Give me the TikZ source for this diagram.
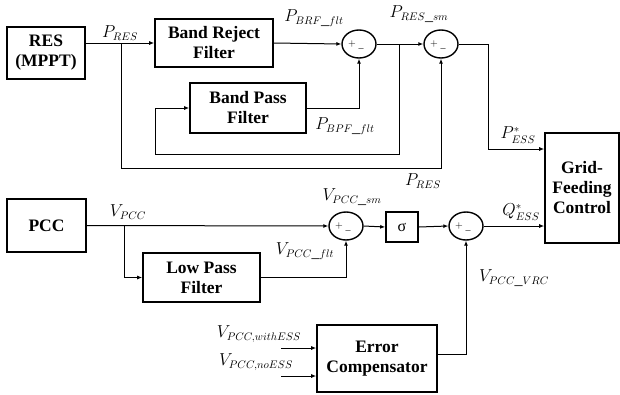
\documentclass[tikz,border=0pt]{standalone}
\usepackage{fontspec}
\setmainfont{Liberation Serif}
\usetikzlibrary{shapes.geometric,arrows.meta,calc}
\begin{document}
\begin{tikzpicture}[x=1pt,y=-1pt,
  blk/.style={draw,line width=1.6pt,align=center,font=\fontsize{17.5}{20}\selectfont\bfseries,inner sep=0pt},
  sumj/.style={draw,line width=1.4pt,ellipse,minimum width=34pt,minimum height=28pt,inner sep=0pt},
  wire/.style={line width=1pt},
  arr/.style={wire,-{Latex[length=5pt,width=4pt]}},
  lbl/.style={font=\fontsize{16}{18}\selectfont,inner sep=0pt},
  pm/.style={font=\fontsize{10}{10}\selectfont,inner sep=0pt}]
\useasboundingbox (0,0) rectangle (620,394);
% blocks
\node[blk,minimum width=78pt,minimum height=52pt] (res) at (46,53) {RES\\(MPPT)};
\node[blk,minimum width=118pt,minimum height=48pt] (brf) at (214,43) {Band Reject\\Filter};
\node[blk,minimum width=116pt,minimum height=50pt] (bpf) at (248,108) {Band Pass\\Filter};
\node[blk,minimum width=74pt,minimum height=110pt] (grid) at (582,188) {Grid-\\Feeding\\Control};
\node[blk,minimum width=79pt,minimum height=53pt] (pcc) at (46.5,225.5) {PCC};
\node[blk,minimum width=117pt,minimum height=49pt] (lpf) at (201.5,277.5) {Low Pass\\Filter};
\node[blk,minimum width=32pt,minimum height=30pt,font=\fontsize{16}{18}\selectfont] (sig) at (402,227) {σ};
\node[blk,minimum width=120pt,minimum height=67pt] (ec) at (377,358.5) {Error\\Compensator};
% summing junctions
\foreach \n/\x/\y in {s1/359/44, s2/441/44, s3/346/226, s4/466/226}{
  \node[sumj] (\n) at (\x,\y) {};
  \node[pm] (\n p) at ($(\x,\y)+(-7,0)$) {$+$};
  \node[pm] (\n m) at ($(\x,\y)+(2,6)$) {\textendash};
}
% coordinates
\coordinate (b1) at (121,43);
\coordinate (b2) at (399,44);
\coordinate (b3) at (124,226);
\coordinate (in1) at (281,348);
\coordinate (in2) at (281,376);
% top connectors
\draw[arr] (res.east |- brf.west) -- (brf.west);
\draw[arr] (brf.east) -- (s1.west);
\draw[arr] (s1.east) -- (s2.west);
\draw[arr] (b2) -- (399,154) -- (155,154) -- (155,108) -- (bpf.west);
\draw[arr] (bpf.east) -| (s1.south);
\draw[arr] (b1) -- (121,168) -| (s2.south);
\draw[arr] (s2.east) -- (488,44) -- (488,149) -- (grid.west |- 0,149);
% bottom connectors
\draw[arr] (pcc.east) -- (s3.west);
\draw[arr] (b3) |- (lpf.west);
\draw[arr] (lpf.east) -| (s3.south);
\draw[arr] (s3.east) -- (sig.west);
\draw[arr] (sig.east) -- (s4.west);
\draw[arr] (s4.east) -- (grid.west |- s4.east);
\draw[arr] (ec.east |- 0,354) -| (s4.south);
\draw[arr] (in1) -- (ec.west |- in1);
\draw[arr] (in2) -- (ec.west |- in2);
% labels
\node[lbl] (l1) at (120,33) {$P_{RES}$};
\node[lbl] (l2) at (314,18) {$P_{BRF\_flt}$};
\node[lbl] (l3) at (419,14) {$P_{RES\_sm}$};
\node[lbl] (l4) at (345,126) {$P_{BPF\_flt}$};
\node[lbl] (l5) at (518,135) {$P^{*}_{ESS}$};
\node[lbl] (l6) at (423,181) {$P_{RES}$};
\node[lbl] (l7) at (128,212) {$V_{PCC}$};
\node[lbl] (l8) at (352,197) {$V_{PCC\_sm}$};
\node[lbl] (l9) at (305,251) {$V_{PCC\_flt}$};
\node[lbl] (l10) at (521,212) {$Q^{*}_{ESS}$};
\node[lbl] (l11) at (514,278) {$V_{PCC\_VRC}$};
\node[lbl] (l12) at (259,334) {$V_{PCC,withESS}$};
\node[lbl] (l13) at (256,362) {$V_{PCC,noESS}$};
\end{tikzpicture}
\end{document}
